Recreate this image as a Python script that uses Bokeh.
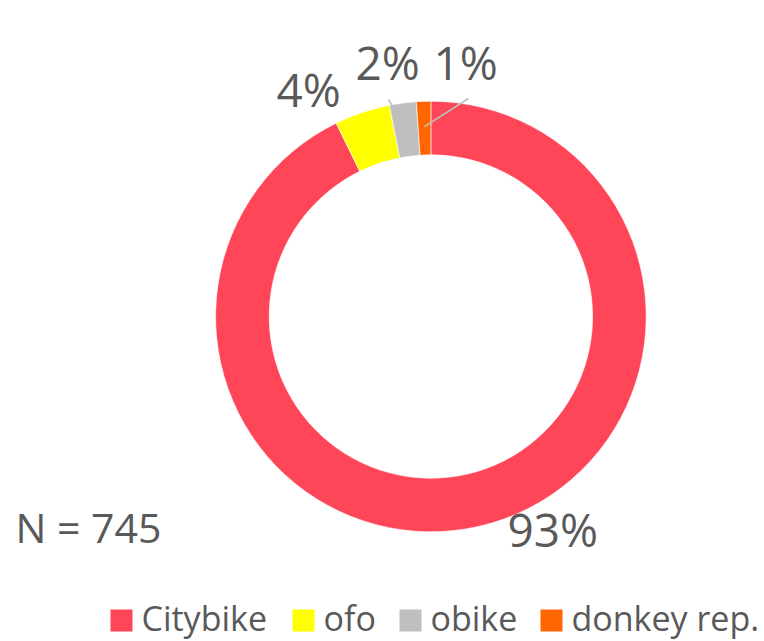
import math
from bokeh.plotting import figure
from bokeh.models import Range1d, ColumnDataSource
from bokeh.core.properties import value
from bokeh.embed import file_html
from bokeh.resources import INLINE

# ---- data ----
categories = ["Citybike", "ofo", "obike", "donkey rep."]
counts = [691, 31, 15, 8]
colors = ["#FF4558", "#FFFF00", "#BFBFBF", "#FF6600"]
n_total = 745

W, H = 764, 641
FONT = "Open Sans"
TXT = "#595959"
BASE_SHIFT = 0.41  # empirical correction of rendered baseline (em)

def px(x):  # picture x -> data x
    return x

def py(y):  # picture y -> data y
    return H - y

def ty(base, fs):  # data y for a text whose baseline should sit at picture y=base
    return py(base - BASE_SHIFT * fs)

p = figure(width=W, height=H, output_backend="svg", toolbar_location=None,
           x_range=Range1d(0, W), y_range=Range1d(0, H), min_border=0,
           tools="")
p.axis.visible = False
p.grid.visible = False
p.outline_line_color = None
p.background_fill_color = "white"

# ---- donut ----
cx, cy = px(430.4), py(316)
r_out, r_in = 215.3, 161.7
total = sum(counts)
fracs = [c / total for c in counts]
starts, ends, mids = [], [], []
cum = 0.0
for f in fracs:
    a0 = math.pi / 2 - cum * 2 * math.pi
    cum += f
    a1 = math.pi / 2 - cum * 2 * math.pi
    starts.append(a0)
    ends.append(a1)
    mids.append((a0 + a1) / 2)

src = ColumnDataSource(dict(start=starts, end=ends, color=colors, cat=categories))
p.annular_wedge(x=cx, y=cy, inner_radius=r_in, outer_radius=r_out,
                start_angle="start", end_angle="end", direction="clock",
                fill_color="color", line_color="white", line_width=0.6,
                source=src)

# ---- labels ----
labels = [f"{round(f * 100)}%" for f in fracs]
label_pos = [(507, 547), (276, 107), (355, 80), (433, 80)]  # (left, baseline)
LFS = 46
for lab, (lx, ly) in zip(labels, label_pos):
    p.text(x=[px(lx)], y=[ty(ly, LFS)], text=[lab], text_font=value(FONT),
           text_font_size=f"{LFS}px", text_color=TXT, text_align="left",
           text_baseline="alphabetic")

# leader lines for small slices (obike, donkey rep.)
leader_outer = {2: (388, 99), 3: (468, 98)}
r_mid = 190
for i, (ox, oy) in leader_outer.items():
    ix = cx + r_mid * math.cos(mids[i])
    iy = cy + r_mid * math.sin(mids[i])
    p.line(x=[px(ox), ix], y=[py(oy), iy], line_color="#BFBFBF", line_width=1.6)

# N annotation
NFS = 41
p.text(x=[px(15)], y=[ty(543, NFS)], text=[f"N = {n_total}"], text_font=value(FONT),
       text_font_size=f"{NFS}px", text_color=TXT, text_align="left",
       text_baseline="alphabetic")

# ---- legend ----
sq_left = [110, 292, 399, 540]
sq = 22
leg_base = 631
GFS = 34
for cat, col, sx in zip(categories, colors, sq_left):
    p.rect(x=[px(sx + sq / 2)], y=[py(leg_base - sq / 2)], width=sq, height=sq,
           fill_color=col, line_color=None)
    p.text(x=[px(sx + 31)], y=[ty(leg_base, GFS)], text=[cat], text_font=value(FONT),
           text_font_size=f"{GFS}px", text_color=TXT, text_align="left",
           text_baseline="alphabetic")

open("out.html", "w").write(file_html(p, INLINE))
